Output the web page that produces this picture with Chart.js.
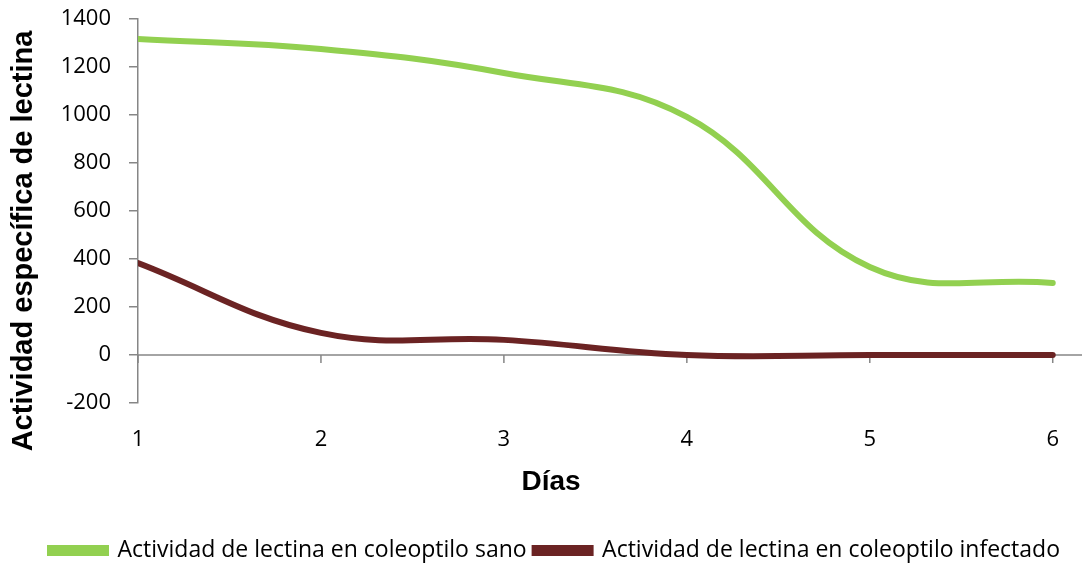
<!DOCTYPE html>
<html><head><meta charset="utf-8">
<script src="https://cdn.jsdelivr.net/npm/chart.js@4.4.0/dist/chart.umd.min.js"></script>
<style>html,body{margin:0;padding:0;background:#fff}#wrap{width:1082px;height:564px}</style>
</head><body><div id="wrap"><canvas id="c" width="1082" height="564"></canvas></div>
<script>
const dias = [1, 2, 3, 4, 5, 6];
const sano = [1317, 1275, 1175, 992, 367, 300];
const infectado = [383, 92, 63, 0, 0, 0];
const yTickValues = [-200, 0, 200, 400, 600, 800, 1000, 1200, 1400];
const seriesNames = ['Actividad de lectina en coleoptilo sano', 'Actividad de lectina en coleoptilo infectado'];
const xTitle = 'Días';
const yTitle = 'Actividad específica de lectina';

const axisGray = '#868686';
const tickFont = { family: 'Open Sans', size: 22 };

const zeroAxis = {
  id: 'zeroAxis',
  beforeDatasetsDraw(chart) {
    const { ctx, chartArea, scales } = chart;
    const y0 = scales.y.getPixelForValue(0);
    ctx.save();
    ctx.strokeStyle = axisGray;
    ctx.lineWidth = 1.5;
    ctx.beginPath();
    ctx.moveTo(chartArea.left, y0);
    ctx.lineTo(chartArea.right, y0);
    dias.forEach(d => {
      const x = scales.x.getPixelForValue(d);
      ctx.moveTo(x, y0);
      ctx.lineTo(x, y0 + 8);
    });
    ctx.stroke();
    ctx.restore();
  },
  afterDraw(chart) {
    const { ctx } = chart;
    ctx.save();
    ctx.fillStyle = '#000';
    ctx.font = 'bold 28px "Liberation Sans", Arial, sans-serif';
    ctx.textAlign = 'center';
    ctx.textBaseline = 'middle';
    ctx.fillText(xTitle, 551, 482);
    ctx.translate(24, 241);
    ctx.rotate(-Math.PI / 2);
    ctx.font = 'bold 29px "Liberation Sans", Arial, sans-serif';
    ctx.fillText(yTitle, 0, 0);
    ctx.restore();
  },
  afterInit(chart) {
    const lg = chart.legend;
    if (lg) {
      const f = lg.fit;
      lg.fit = function () { f.call(this); this.height = 33; };
    }
  },
  afterLayout(chart) {
    const lg = chart.legend;
    if (lg) { lg.left += 14; lg.right += 14; }
  }
};

new Chart(document.getElementById('c'), {
  type: 'line',
  data: {
    datasets: [
      {
        label: seriesNames[0],
        data: dias.map((d, i) => ({ x: d, y: sano[i] })),
        borderColor: '#92D050',
        backgroundColor: '#92D050',
        borderWidth: 6,
        pointRadius: 0,
        tension: 0.4,
        borderCapStyle: 'round'
      },
      {
        label: seriesNames[1],
        data: dias.map((d, i) => ({ x: d, y: infectado[i] })),
        borderColor: '#6B2323',
        backgroundColor: '#6B2323',
        borderWidth: 6,
        pointRadius: 0,
        tension: 0.4,
        borderCapStyle: 'round'
      }
    ]
  },
  options: {
    responsive: false,
    animation: false,
    layout: { padding: { top: 19, left: 0, right: 0, bottom: 0 } },
    plugins: {
      tooltip: { enabled: false },
      legend: {
        position: 'bottom',
        labels: {
          boxWidth: 56,
          boxHeight: 5,
          padding: 8,
          color: '#000',
          font: { family: 'Open Sans', size: 23 }
        }
      }
    },
    scales: {
      x: {
        type: 'linear',
        min: 1,
        max: 6.16,
        afterBuildTicks(scale) { scale.ticks = dias.map(v => ({ value: v })); },
        afterFit(scale) { scale.height = 128; scale.paddingLeft = 0; scale.paddingRight = 0; },
        grid: { display: false, drawTicks: false },
        border: { display: false },
        ticks: { color: '#000', font: tickFont, padding: 24, maxRotation: 0, autoSkip: false }
      },
      y: {
        min: -200,
        max: 1400,
        afterBuildTicks(scale) { scale.ticks = yTickValues.map(v => ({ value: v })); },
        afterFit(scale) { scale.width = 138; scale.paddingTop = 0; scale.paddingBottom = 0; },
        grid: { drawOnChartArea: false, drawTicks: true, tickLength: 9, color: axisGray, lineWidth: 1.5 },
        border: { display: true, color: axisGray, width: 1.5 },
        ticks: { color: '#000', font: tickFont, padding: 18, callback: v => String(v) }
      }
    }
  },
  plugins: [zeroAxis]
});
</script>
</body></html>
